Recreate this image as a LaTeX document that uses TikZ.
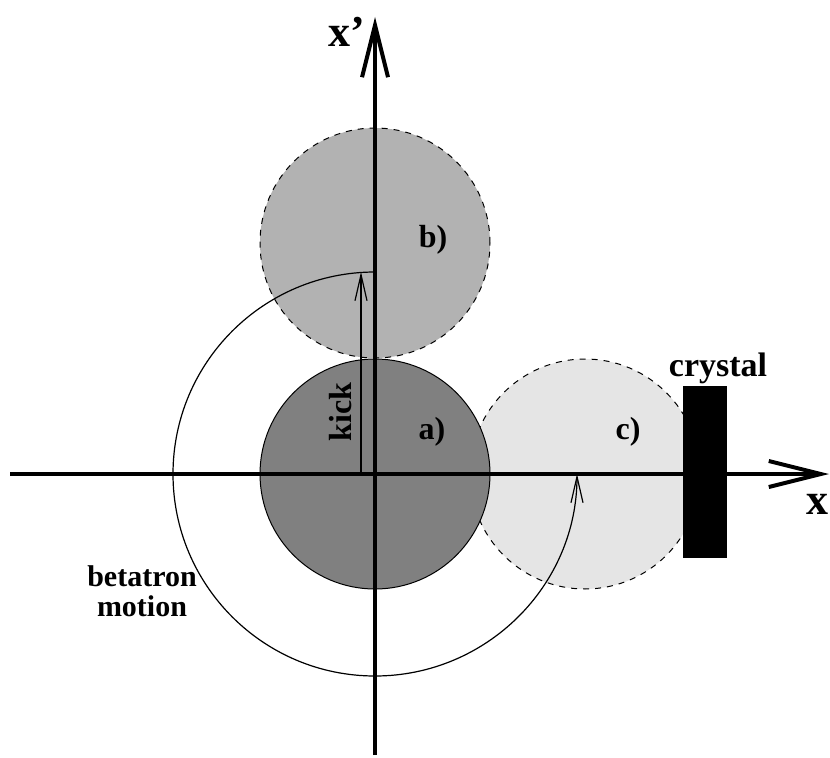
\documentclass[tikz,border=0pt]{standalone}
\usepackage{fontspec}
\setmainfont{Liberation Serif}
\usetikzlibrary{arrows.meta}

\tikzset{
    axis/.style={line width=2pt, -{Straight Barb[length=26pt, width=13pt]}},
    thinarrow/.style={line width=0.6pt, -{Straight Barb[length=13pt, width=6pt]}},
    beam/.style={draw, line width=0.5pt},
    lbl/.style={font=\fontsize{16}{17}\selectfont\bfseries, inner sep=0pt},
    axislbl/.style={font=\fontsize{22}{24}\selectfont\bfseries, inner sep=0pt}
}

\begin{document}
\begin{tikzpicture}[x=0.5pt, y=0.5pt]
    \useasboundingbox (0,0) rectangle (830,757);
    \coordinate (o) at (375,283);
    % beam spots
    \filldraw[beam, dashed, fill=black!10] (585,283) circle (115);
    \filldraw[beam, dashed, fill=black!30] (375,514) circle (115);
    \filldraw[beam, fill=black!50] (o) circle (115);
    % betatron motion and kick
    \draw[thinarrow] (375,485) arc[start angle=90, end angle=360, radius=202];
    \draw[thinarrow] (361,283) -- (361,485);
    % axes
    \draw[axis] (10,283) -- (829,283);
    \draw[axis] (375,2) -- (375,740);
    % crystal
    \fill[black] (683,199) rectangle (727,371);
    \node (xp) [axislbl] at (347,725) {x’};
    \node (xx) [axislbl] at (817,253) {x};
    \node (spotb) [lbl] at (433,517) {b)};
    \node (spota) [lbl] at (432,325) {a)};
    \node (spotc) [lbl] at (628,325) {c)};
    \node (kick) [lbl, rotate=90] at (341,345) {kick};
    \node (beta) [lbl, font=\fontsize{15}{15}\selectfont\bfseries, align=center] at (142,166) {betatron\\motion};
    \node (cryst) [lbl, font=\fontsize{17}{18}\selectfont\bfseries] at (718,389) {crystal};
\end{tikzpicture}
\end{document}
